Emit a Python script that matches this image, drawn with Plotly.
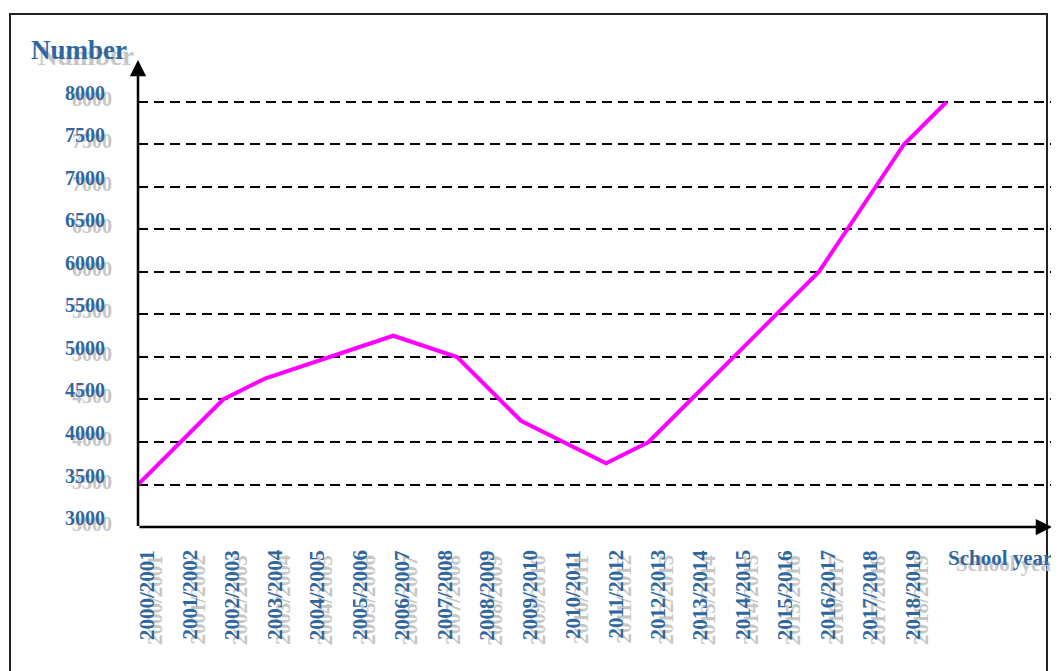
import plotly.graph_objects as go

# ---- data ----
school_years = ["2000/2001", "2001/2002", "2002/2003", "2003/2004", "2004/2005",
                "2005/2006", "2006/2007", "2007/2008", "2008/2009", "2009/2010",
                "2010/2011", "2011/2012", "2012/2013", "2013/2014", "2014/2015",
                "2015/2016", "2016/2017", "2017/2018", "2018/2019"]
year_start = [2000 + i for i in range(len(school_years))]

# vertices of the curve (school-year start, number)
line_x = [2000, 2002, 2003, 2006, 2007.5, 2009, 2011, 2012, 2016, 2018, 2019]
line_y = [3500, 4500, 4750, 5250, 5000, 4250, 3750, 4000, 6000, 7500, 8000]

y_ticks = [3000, 3500, 4000, 4500, 5000, 5500, 6000, 6500, 7000, 7500, 8000]

BLUE = "#2E67A0"
SHADOW = "#C6C6C6"
FONT = "Liberation Serif, Times New Roman, serif"

OFF = 8  # page body margin
W, H = 1059 - OFF, 671 - OFF
L, T = 138 - OFF, 60 - OFF
plot_w = 914
plot_h = 467.5
R = W - L - plot_w
B = H - T - plot_h
px_per_year = 42.55
px_per_500 = 42.55

x_max = 2000 + plot_w / px_per_year
y_max = 3000 + plot_h / px_per_500 * 500

fig = go.Figure()
fig.add_trace(go.Scatter(x=line_x, y=line_y, mode="lines",
                         line=dict(color="#FF00FF", width=4),
                         hoverinfo="skip", showlegend=False))

ann = []


def shadowed(base, dx, dy):
    s = dict(base)
    s["font"] = dict(base["font"], color=SHADOW)
    s["xshift"] = base.get("xshift", 0) + dx
    s["yshift"] = base.get("yshift", 0) - dy
    b = dict(base)
    b["font"] = dict(base["font"], color=BLUE)
    ann.append(s)
    ann.append(b)


# y tick labels
for v in y_ticks:
    shadowed(dict(x=0, xref="paper", y=v, yref="y", text=str(v), showarrow=False,
                  xanchor="right", yanchor="middle", xshift=-31, yshift=9,
                  font=dict(family=FONT, size=20, weight="bold")), 7, 6)

# x tick labels (rotated)
for xs, lab in zip(year_start, school_years):
    shadowed(dict(x=xs, xref="x", y=0, yref="paper", text=lab, showarrow=False,
                  textangle=-90, xanchor="center", yanchor="top",
                  xshift=9, yshift=-21,
                  font=dict(family=FONT, size=21, weight="bold")), 8, 5)

# axis titles
shadowed(dict(x=0, xref="paper", y=1, yref="paper", text="Number", showarrow=False,
              xanchor="center", yanchor="middle", xshift=79 - 138, yshift=60 - 50,
              font=dict(family=FONT, size=27, weight="bold")), 7, 6)
shadowed(dict(x=1, xref="paper", y=0, yref="paper", text="School year", showarrow=False,
              xanchor="left", yanchor="middle", xshift=946 - 1052, yshift=527.5 - 558,
              font=dict(family=FONT, size=21, weight="bold")), 8, 6)

# axis lines with arrowheads
ann.append(dict(x=1, xref="paper", y=3000, yref="y", ax=-plot_w, ay=0,
                axref="pixel", ayref="pixel", showarrow=True, text="",
                arrowhead=2, arrowsize=1.3, arrowwidth=2.5, arrowcolor="black"))
ann.append(dict(x=2000, xref="x", y=1, yref="paper", ax=0, ay=plot_h,
                axref="pixel", ayref="pixel", showarrow=True, text="",
                arrowhead=2, arrowsize=1.3, arrowwidth=2.5, arrowcolor="black"))

# outer frame
frame = dict(type="rect", xref="paper", yref="paper",
             x0=(10 - 138) / plot_w, x1=(1047 - 138) / plot_w,
             y0=(527.5 - 700) / plot_h, y1=(527.5 - 14) / plot_h,
             line=dict(color="#222222", width=2), fillcolor="rgba(0,0,0,0)",
             layer="above")

fig.update_layout(
    width=W, height=H,
    margin=dict(l=L, r=R, t=T, b=B, pad=0),
    paper_bgcolor="white", plot_bgcolor="white",
    showlegend=False,
    xaxis=dict(range=[2000, x_max], showgrid=False, zeroline=False,
               showticklabels=False, ticks="", showline=False, fixedrange=True),
    yaxis=dict(range=[3000, y_max], tickvals=y_ticks[1:], showticklabels=False,
               ticks="", showgrid=True, gridcolor="black", gridwidth=2,
               griddash="10px,6px", zeroline=False, showline=False, fixedrange=True),
    annotations=ann,
    shapes=[frame],
)

fig.write_html("out.html")
